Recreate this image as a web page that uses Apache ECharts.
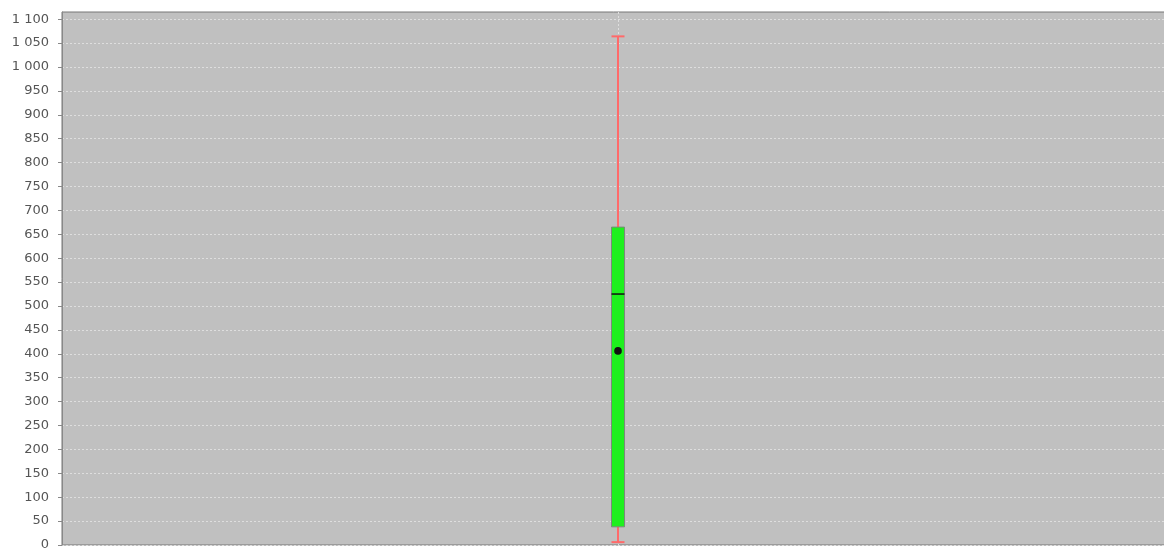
<!DOCTYPE html>
<html>
<head>
<meta charset="utf-8">
<script src="https://cdn.jsdelivr.net/npm/echarts@6/dist/echarts.min.js"></script>
<style>
  html, body { margin: 0; padding: 0; background: #ffffff; }
  #chart { width: 1164px; height: 548px; }
</style>
</head>
<body>
<div id="chart"></div>
<script>
// Box-and-whisker summary for a single series
const categories = ['Series 1'];
const lowWhisker = [6];
const q1 = [38];
const median = [525];
const q3 = [665];
const highWhisker = [1064];
const mean = [406];
const yTicks = [0, 50, 100, 150, 200, 250, 300, 350, 400, 450, 500, 550,
  600, 650, 700, 750, 800, 850, 900, 950, 1000, 1050, 1100];

const boxData = categories.map((c, i) =>
  [1, lowWhisker[i], q1[i], median[i], q3[i], highWhisker[i], mean[i]]);

function fmt(v) {
  return String(v).replace(/\B(?=(\d{3})+(?!\d))/g, ' ');
}

const chart = echarts.init(document.getElementById('chart'));

function renderBox(params, api) {
  const x = api.value(0);
  const pLow = api.coord([x, api.value(1)]);
  const pQ1 = api.coord([x, api.value(2)]);
  const pMed = api.coord([x, api.value(3)]);
  const pQ3 = api.coord([x, api.value(4)]);
  const pHigh = api.coord([x, api.value(5)]);
  const pMean = api.coord([x, api.value(6)]);
  const half = 6.5;
  const cx = Math.round(pMed[0]);
  const whisker = { stroke: '#ff6a6a', lineWidth: 2 };
  return {
    type: 'group',
    children: [
      { type: 'line', shape: { x1: cx, y1: pHigh[1], x2: cx, y2: pQ3[1] }, style: whisker },
      { type: 'line', shape: { x1: cx - half, y1: pHigh[1], x2: cx + half, y2: pHigh[1] }, style: whisker },
      { type: 'line', shape: { x1: cx, y1: pQ1[1], x2: cx, y2: pLow[1] }, style: whisker },
      { type: 'line', shape: { x1: cx - half, y1: pLow[1], x2: cx + half, y2: pLow[1] }, style: whisker },
      { type: 'rect', shape: { x: cx - half, y: pQ3[1], width: half * 2, height: pQ1[1] - pQ3[1] },
        style: { fill: '#1ef01e', stroke: '#7a8a7a', lineWidth: 1 } },
      { type: 'line', shape: { x1: cx - half, y1: pMed[1], x2: cx + half, y2: pMed[1] },
        style: { stroke: '#111', lineWidth: 1.5 } },
      { type: 'circle', shape: { cx: cx, cy: pMean[1], r: 3.8 },
        style: { fill: '#111' } }
    ]
  };
}

chart.setOption({
  animation: false,
  grid: {
    left: 62, right: -10, top: 12, bottom: 3,
    outerBoundsMode: 'none', containLabel: false,
    show: true, backgroundColor: '#c0c0c0', borderColor: '#777', borderWidth: 1
  },
  xAxis: {
    type: 'value', min: 0, max: 2, interval: 1,
    axisLine: { show: false }, axisTick: { show: false }, axisLabel: { show: false },
    splitLine: { show: true, lineStyle: { color: '#dedede', type: [2, 2], width: 1 } }
  },
  yAxis: {
    type: 'value', min: 0, max: 1115, interval: 50, offset: 4,
    axisLine: { show: true, lineStyle: { color: '#888', width: 1 } },
    axisTick: { show: true, length: 4, lineStyle: { color: '#888' }, customValues: yTicks },
    axisLabel: {
      customValues: yTicks, margin: 9, color: '#555', fontSize: 13,
      fontFamily: 'DejaVu Sans', formatter: v => fmt(v)
    },
    splitLine: { show: true, lineStyle: { color: '#dedede', type: [2, 2], width: 1 } }
  },
  series: [{
    type: 'custom',
    renderItem: renderBox,
    data: boxData,
    encode: { x: 0, y: [1, 2, 3, 4, 5, 6] },
    clip: false
  }]
});
</script>
</body>
</html>
